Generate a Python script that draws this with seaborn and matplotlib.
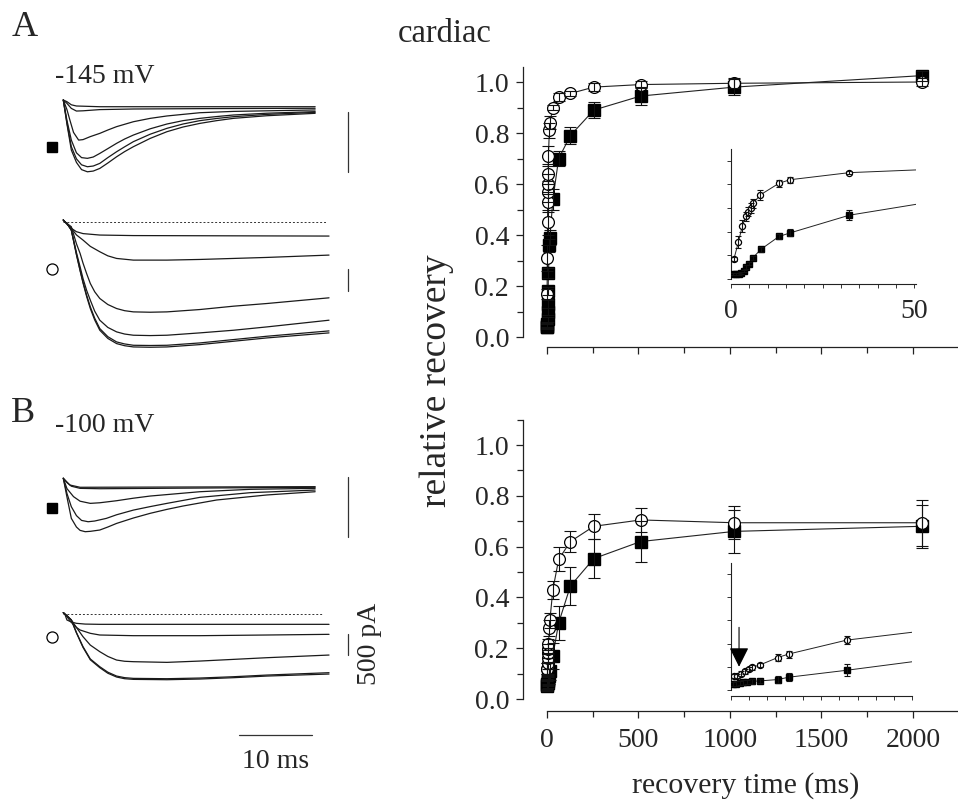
import matplotlib
matplotlib.use("Agg")
import matplotlib.pyplot as plt
import seaborn as sns
import pandas as pd
from matplotlib.ticker import MultipleLocator, FixedLocator, FormatStrFormatter, NullFormatter

# ---------------- data: recovery from inactivation ----------------
# panel A (-145 mV)
a_open_t = [0.8, 2.0, 3.1, 4.0, 4.6, 5.4, 6.1, 7.9, 13.1, 16.1, 32.3, 64, 128, 256, 512, 1024, 2048]
a_open_v = [0.17, 0.31, 0.45, 0.53, 0.57, 0.60, 0.64, 0.71, 0.81, 0.84, 0.90, 0.94, 0.955, 0.98, 0.99, 0.995, 1.0]
a_open_e = [0.02, 0.05, 0.05, 0.04, 0.04, 0.04, 0.04, 0.04, 0.03, 0.025, 0.01, 0.015, 0.01, 0.015, 0.015, 0.02, 0.015]
a_fill_t = [0.6, 1.4, 2.1, 2.8, 3.5, 4.0, 5.0, 6.0, 8.1, 13.1, 16.1, 32.3, 64, 128, 256, 512, 1024, 2048]
a_fill_v = [0.04, 0.04, 0.045, 0.05, 0.07, 0.10, 0.13, 0.18, 0.25, 0.36, 0.39, 0.54, 0.70, 0.79, 0.89, 0.945, 0.98, 1.025]
a_fill_e = [0.01, 0.01, 0.01, 0.01, 0.01, 0.015, 0.015, 0.015, 0.02, 0.025, 0.03, 0.04, 0.03, 0.035, 0.03, 0.035, 0.03, 0.02]
# panel B (-100 mV)
b_open_t = [0.8, 1.7, 2.9, 4.0, 5.0, 6.0, 8.0, 13, 16, 32, 64, 128, 256, 512, 1024, 2048]
b_open_v = [0.12, 0.12, 0.14, 0.16, 0.18, 0.196, 0.215, 0.28, 0.31, 0.43, 0.55, 0.62, 0.68, 0.705, 0.694, 0.694]
b_open_e = [0.02, 0.02, 0.02, 0.02, 0.02, 0.02, 0.02, 0.03, 0.03, 0.035, 0.047, 0.042, 0.05, 0.046, 0.065, 0.09]
b_fill_t = [0.6, 1.5, 2.5, 3.3, 4.6, 5.9, 8.0, 13, 16, 32, 64, 128, 256, 512, 1024, 2048]
b_fill_v = [0.05, 0.055, 0.06, 0.065, 0.07, 0.075, 0.078, 0.09, 0.11, 0.17, 0.30, 0.445, 0.553, 0.62, 0.66, 0.68]
b_fill_e = [0.02, 0.02, 0.02, 0.02, 0.02, 0.02, 0.02, 0.03, 0.035, 0.05, 0.067, 0.076, 0.077, 0.08, 0.084, 0.085]

main_xticks = [0, 500, 1000, 1500, 2000]
main_yticks = [0.0, 0.2, 0.4, 0.6, 0.8, 1.0]
inset_xlabels = [0, 50]

# ---------------- data: current traces (ms, pA) ----------------
a_sq_t = [[0, 0.5, 1.1, 1.8, 5.0, 34.5],
          [0, 0.5, 1.1, 1.8, 2.7, 5.0, 9.6, 18.7, 34.5],
          [0, 0.5, 0.9, 1.4, 2.1, 2.7, 3.7, 5.0, 6.1, 7.3, 9.6, 11.9, 14.2, 18.7, 23.3, 34.5],
          [0, 0.5, 1.1, 1.8, 2.5, 3.3, 4.1, 5.0, 6.1, 7.3, 8.4, 9.6, 11.9, 14.2, 16.4, 18.7, 21.0, 23.3, 27.9, 34.5],
          [0, 0.5, 1.1, 1.8, 2.5, 3.3, 4.1, 5.0, 6.1, 7.3, 8.4, 9.6, 11.9, 14.2, 16.4, 18.7, 21.0, 23.3, 27.9, 34.5],
          [0, 0.5, 1.1, 1.8, 2.5, 3.3, 4.1, 5.0, 6.1, 7.3, 8.4, 9.6, 11.9, 14.2, 16.4, 18.7, 21.0, 23.3, 27.9, 34.5]]
a_sq_i = [[50, 36, 10, 0, -6, -6],
          [50, 22, -20, -42, -40, -30, -25, -22, -19],
          [50, -30, -117, -220, -284, -280, -255, -228, -200, -172, -131, -103, -83, -56, -45, -33],
          [50, -120, -284, -390, -430, -436, -425, -395, -355, -311, -275, -242, -190, -150, -122, -103, -88, -75, -60, -47],
          [50, -140, -339, -440, -490, -506, -500, -478, -430, -381, -340, -297, -235, -186, -150, -122, -104, -89, -70, -53],
          [50, -150, -367, -470, -530, -548, -542, -520, -475, -423, -380, -339, -270, -214, -175, -145, -122, -103, -81, -61]]

a_ci_t = [[0, 0.2, 0.5, 1.1, 1.8, 2.7, 5.0, 9.6, 36.4],
          [0, 0.2, 0.5, 1.1, 1.8, 2.7, 3.7, 5.0, 6.1, 7.3, 9.6, 14.2, 18.7, 23.3, 27.9, 36.4],
          [0, 0.2, 0.5, 1.1, 1.8, 2.3, 2.7, 3.2, 3.7, 4.3, 5.0, 6.1, 7.3, 8.4, 9.6, 11.9, 14.2, 18.7, 23.3, 27.9, 36.4],
          [0, 0.2, 0.5, 1.1, 1.8, 2.3, 2.7, 3.2, 3.7, 4.3, 5.0, 6.1, 7.3, 8.4, 9.6, 11.9, 14.2, 18.7, 23.3, 27.9, 36.4],
          [0, 0.2, 0.5, 1.1, 1.8, 2.3, 2.7, 3.2, 3.7, 4.3, 5.0, 6.1, 7.3, 8.4, 9.6, 11.9, 14.2, 18.7, 23.3, 27.9, 36.4],
          [0, 0.2, 0.5, 1.1, 1.8, 2.3, 2.7, 3.2, 3.7, 4.3, 5.0, 6.1, 7.3, 8.4, 9.6, 11.9, 14.2, 18.7, 23.3, 27.9, 36.4]]
a_ci_i = [[38, 0, -60, -150, -227, -270, -303, -315, -326],
          [38, 0, -38, -150, -300, -417, -560, -682, -775, -834, -872, -872, -857, -834, -811, -758],
          [38, 0, -40, -114, -500, -720, -940, -1180, -1402, -1590, -1743, -1880, -1971, -2020, -2047, -2055, -2047, -1994, -1918, -1857, -1728],
          [38, 0, -40, -190, -700, -1023, -1290, -1560, -1781, -2030, -2236, -2400, -2501, -2550, -2577, -2585, -2577, -2524, -2464, -2388, -2236],
          [38, 0, -40, -190, -740, -1099, -1370, -1670, -1933, -2190, -2426, -2610, -2729, -2775, -2805, -2810, -2805, -2752, -2676, -2600, -2479],
          [38, 0, -40, -190, -750, -1114, -1390, -1700, -1971, -2230, -2464, -2650, -2767, -2815, -2843, -2850, -2843, -2790, -2714, -2638, -2524]]
a_ci_base = [0, 36.1]

b_sq_t = [[0, 0.5, 0.9, 2.3, 34.5],
          [0, 0.5, 1.1, 2.3, 5.0, 34.5],
          [0, 0.5, 1.4, 2.3, 3.7, 5.0, 7.3, 9.6, 11.9, 18.7, 25.6, 34.5],
          [0, 0.5, 1.1, 1.8, 2.5, 3.4, 4.3, 5.9, 7.3, 9.6, 11.9, 14.2, 18.7, 25.6, 34.5],
          [0, 0.5, 1.1, 1.8, 2.3, 3.0, 3.7, 5.0, 6.1, 7.3, 9.6, 11.9, 14.2, 16.4, 21.0, 27.9, 34.5]]
b_sq_i = [[56, 25, 0, -19, -14],
          [56, 20, -10, -28, -31, -19],
          [56, -30, -97, -135, -153, -148, -131, -110, -92, -56, -36, -28],
          [56, -70, -181, -255, -295, -306, -300, -278, -248, -209, -180, -153, -103, -64, -42],
          [56, -100, -278, -350, -378, -389, -386, -375, -350, -320, -275, -236, -203, -175, -125, -83, -56]]

b_ci_t = [[0, 0.2, 0.5, 1.1, 1.8, 3.0, 5.0, 36.4],
          [0, 0.2, 0.5, 1.1, 1.8, 2.3, 3.7, 5.0, 9.6, 18.7, 27.9, 36.4],
          [0, 0.2, 0.5, 1.1, 1.8, 2.7, 3.7, 5.0, 6.1, 7.3, 8.4, 9.6, 14.2, 18.7, 23.3, 27.9, 36.4],
          [0, 0.2, 0.5, 1.1, 1.8, 2.7, 3.7, 5.0, 6.1, 7.3, 8.4, 9.6, 14.2, 18.7, 23.3, 27.9, 36.4],
          [0, 0.2, 0.5, 1.1, 1.8, 2.7, 3.7, 5.0, 6.1, 7.3, 8.4, 9.6, 14.2, 18.7, 23.3, 27.9, 36.4]]
b_ci_i = [[32, 0, -143, -190, -222, -240, -246, -246],
          [32, 0, -64, -200, -320, -381, -460, -500, -516, -516, -500, -484],
          [32, 0, -40, -143, -320, -540, -740, -897, -1010, -1096, -1125, -1135, -1151, -1120, -1080, -1040, -977],
          [32, 0, -40, -143, -440, -778, -1070, -1255, -1385, -1477, -1515, -1532, -1540, -1524, -1493, -1453, -1397],
          [32, 0, -40, -143, -450, -794, -1090, -1278, -1410, -1500, -1540, -1556, -1564, -1548, -1516, -1477, -1429]]
b_ci_base = [0, 35.6]

scale_pa = 500
scale_ms = 10

# ---------------- figure ----------------
sns.set_theme(style="ticks")
plt.rcParams["font.family"] = ["Liberation Serif", "DejaVu Serif"]
plt.rcParams["axes.linewidth"] = 0.9
plt.rcParams["axes.edgecolor"] = "#222222"

W, H = 958, 806
fig = plt.figure(figsize=(W / 100, H / 100), dpi=100)
fig.patch.set_facecolor("white")


def px_axes(left, right, top, bottom):
    return fig.add_axes([left / W, 1 - bottom / H, (right - left) / W, (bottom - top) / H])


def ftext(x, y, s, **kw):
    fig.text(x / W, 1 - y / H, s, **kw)


# ---- trace panels ----
T0_PX, PX_PER_MS = 63.3, 7.3
TR_LEFT, TR_RIGHT = 30, 360


def trace_axes(top, bottom, base_px, pa_per_px):
    ax = px_axes(TR_LEFT, TR_RIGHT, top, bottom)
    ax.set_xlim((TR_LEFT - T0_PX) / PX_PER_MS, (TR_RIGHT - T0_PX) / PX_PER_MS)
    ax.set_ylim((base_px - bottom) * pa_per_px, (base_px - top) * pa_per_px)
    ax.axis("off")
    return ax


def draw_traces(ax, tlist, ilist):
    rows = []
    for k, (tt, ii) in enumerate(zip(tlist, ilist)):
        for a, b in zip(tt, ii):
            rows.append({"t": a, "I": b, "trace": k})
    df = pd.DataFrame(rows)
    sns.lineplot(data=df, x="t", y="I", units="trace", estimator=None, sort=False,
                 color="#1a1a1a", lw=0.9, ax=ax, legend=False)


bar_t = (347.5 - T0_PX) / PX_PER_MS

ax_tr1 = trace_axes(80, 190, 106, 8.33)
draw_traces(ax_tr1, a_sq_t, a_sq_i)
ax_tr1.plot([bar_t, bar_t], [-47, -47 - scale_pa], color="#333333", lw=0.9)

ax_tr2 = trace_axes(200, 370, 221.7, 22.7)
ax_tr2.plot(a_ci_base, [0, 0], color="#333333", lw=0.7, ls=(0, (2, 2)))
draw_traces(ax_tr2, a_ci_t, a_ci_i)
ax_tr2.plot([bar_t, bar_t], [-1080, -1080 - scale_pa], color="#333333", lw=0.9)

ax_tr3 = trace_axes(460, 560, 485, 8.33)
draw_traces(ax_tr3, b_sq_t, b_sq_i)
ax_tr3.plot([bar_t, bar_t], [64, 64 - scale_pa], color="#333333", lw=0.9)

ax_tr4 = trace_axes(590, 750, 614, 23.8)
ax_tr4.plot(b_ci_base, [0, 0], color="#333333", lw=0.7, ls=(0, (2, 2)))
draw_traces(ax_tr4, b_ci_t, b_ci_i)
ax_tr4.plot([bar_t, bar_t], [-483, -483 - scale_pa], color="#333333", lw=0.9)
ms_bar_y = (614 - 735) * 23.8
ms_bar_x0 = (239.3 - T0_PX) / PX_PER_MS
ax_tr4.plot([ms_bar_x0, ms_bar_x0 + scale_ms], [ms_bar_y, ms_bar_y], color="#333333", lw=0.9, clip_on=False)

# symbols next to traces
ov = fig.add_axes([0, 0, 1, 1])
ov.set_xlim(0, W)
ov.set_ylim(H, 0)
ov.axis("off")
ov.patch.set_alpha(0)
ov.plot([52], [147], marker="s", ms=7.5, color="black", ls="none")
ov.plot([52], [268.5], marker="o", ms=8, mfc="white", mec="black", mew=0.9, ls="none")
ov.plot([52], [508], marker="s", ms=7.5, color="black", ls="none")
ov.plot([52], [636.5], marker="o", ms=8, mfc="white", mec="black", mew=0.9, ls="none")

# ---- texts ----
ftext(12, 36, "A", fontsize=26, va="baseline", ha="left")
ftext(11, 422, "B", fontsize=26, va="baseline", ha="left")
ftext(55, 83, "-145 mV", fontsize=20, va="baseline", ha="left")
ftext(55, 432, "-100 mV", fontsize=20, va="baseline", ha="left")
ftext(276, 768, "10 ms", fontsize=20, va="baseline", ha="center")
ftext(369, 644, "500 pA", fontsize=20, va="center", ha="center", rotation=90)
ftext(445, 42, "cardiac", fontsize=23.5, va="baseline", ha="center")
ftext(437, 381, "relative recovery", fontsize=27, va="center", ha="center", rotation=90)
ftext(746, 786, "recovery time (ms)", fontsize=21.5, va="center", ha="center")


# ---- recovery panels ----
def plot_series(ax, t, v, e, filled, ms, cap, lw_line=0.8):
    df = pd.DataFrame({"t": t, "v": v})
    sns.lineplot(data=df, x="t", y="v", estimator=None, sort=False, ax=ax,
                 color="#222222", lw=lw_line, legend=False, zorder=2)
    if filled:
        ax.plot(t, v, ls="none", marker="s", ms=ms * 0.94, mfc="black", mec="black", zorder=3)
    else:
        ax.plot(t, v, ls="none", marker="o", ms=ms, mfc="white", mec="black", mew=0.9, zorder=3)
    ax.errorbar(t, v, yerr=e, fmt="none", ecolor="#111111", elinewidth=0.8,
                capsize=cap, capthick=0.8, zorder=4)


def style_main(ax, ylo, yhi, show_xlabels):
    ax.set_xlim(-131, 2246)
    ax.set_ylim(ylo, yhi)
    sns.despine(ax=ax)
    ax.spines["left"].set_bounds(0, yhi)
    ax.spines["bottom"].set_bounds(0, 2246)
    ax.xaxis.set_major_locator(FixedLocator(main_xticks))
    ax.xaxis.set_minor_locator(MultipleLocator(250))
    ax.yaxis.set_major_locator(FixedLocator(main_yticks))
    ax.yaxis.set_minor_locator(MultipleLocator(0.1))
    ax.yaxis.set_major_formatter(FormatStrFormatter("%.1f"))
    ax.tick_params(which="both", direction="out", color="#222222", width=0.9)
    ax.tick_params(which="major", length=5)
    ax.tick_params(which="minor", length=4)
    ax.tick_params(axis="y", labelsize=20, pad=5)
    ax.tick_params(axis="x", labelsize=20, pad=7)
    if not show_xlabels:
        ax.set_xticklabels([])
    ax.set_xlabel("")
    ax.set_ylabel("")
    ax.patch.set_alpha(0)


def style_inset(ax, xhi, ylo, yhi, labels):
    ax.set_xlim(0, xhi)
    ax.set_ylim(ylo, yhi)
    sns.despine(ax=ax)
    ax.spines["left"].set_bounds(0, yhi)
    ax.spines["left"].set_linewidth(0.8)
    ax.spines["bottom"].set_linewidth(0.8)
    ax.yaxis.set_major_locator(MultipleLocator(0.2))
    ax.yaxis.set_major_formatter(NullFormatter())
    if labels:
        ax.xaxis.set_major_locator(FixedLocator(inset_xlabels))
        ax.xaxis.set_minor_locator(MultipleLocator(5))
        ax.tick_params(axis="x", labelsize=20, pad=8)
    else:
        ax.xaxis.set_major_locator(MultipleLocator(5))
        ax.xaxis.set_major_formatter(NullFormatter())
    ax.tick_params(which="both", direction="out", length=3, width=0.7, color="#333333")
    ax.set_xlabel("")
    ax.set_ylabel("")
    ax.patch.set_alpha(0)


ax_a = px_axes(523, 958, 66.7, 347)
plot_series(ax_a, a_fill_t, a_fill_v, a_fill_e, True, 8.5, 4.6)
plot_series(ax_a, a_open_t, a_open_v, a_open_e, False, 8.5, 4.6)
style_main(ax_a, -0.039, 1.06, False)

ax_b = px_axes(523, 958, 419.6, 711)
plot_series(ax_b, b_fill_t, b_fill_v, b_fill_e, True, 8.5, 4.6)
plot_series(ax_b, b_open_t, b_open_v, b_open_e, False, 8.5, 4.6)
style_main(ax_b, -0.047, 1.10, True)

ax_ai = px_axes(731, 916, 149, 284)
plot_series(ax_ai, a_fill_t, a_fill_v, a_fill_e, True, 4.4, 2.2, 0.7)
plot_series(ax_ai, a_open_t, a_open_v, a_open_e, False, 4.4, 2.2, 0.7)
style_inset(ax_ai, 50.5, -0.042, 1.10, True)

ax_bi = px_axes(730.7, 912, 563, 696)
plot_series(ax_bi, b_fill_t, b_fill_v, b_fill_e, True, 4.4, 2.2, 0.7)
plot_series(ax_bi, b_open_t, b_open_v, b_open_e, False, 4.4, 2.2, 0.7)
style_inset(ax_bi, 50, -0.052, 1.095, False)
ax_bi.annotate("", xy=(2.3, 0.2), xytext=(2.3, 0.54),
               arrowprops=dict(arrowstyle="-|>,head_length=1.0,head_width=0.5",
                               color="black", lw=0.8, shrinkA=0, shrinkB=0))

fig.savefig("out.png", dpi=100, facecolor="white")
